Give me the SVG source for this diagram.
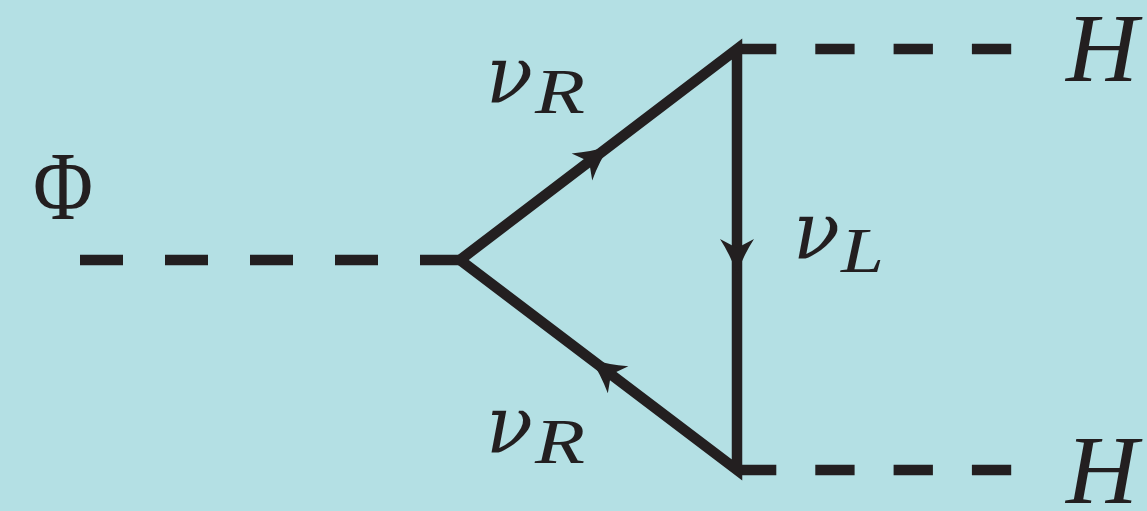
<svg xmlns="http://www.w3.org/2000/svg" width="1147" height="511" viewBox="0 0 1147 511">
<defs>
<style>
.bg{fill:#b4e0e4}
.fermion{fill:none;stroke:#231f20;stroke-width:10.5;stroke-linejoin:miter;stroke-miterlimit:10}
.scalar{fill:none;stroke:#231f20;stroke-width:10.5;stroke-linecap:butt}
.arrow{fill:#231f20}
.math{font-family:"Liberation Serif","Times New Roman",serif;font-style:italic;fill:#231f20}
.greek{font-family:"DejaVu Serif",serif;font-style:italic;fill:#231f20}
.up{font-family:"Liberation Serif","Times New Roman",serif;fill:#231f20}
</style>
<path id="ah" d="M 6 0 Q -12 -6 -29 -17 L -20 0 L -29 17 Q -12 6 6 0 Z"/>
</defs>
<rect class="bg" x="0" y="0" width="1147" height="511"/>
<g id="connectors">
<path class="scalar" d="M 80 260 H 460" stroke-dasharray="43 42"/>
<path class="scalar" d="M 737 49 H 1012" stroke-dasharray="39.3 39"/>
<path class="scalar" d="M 737 470 H 1012" stroke-dasharray="39.3 39"/>
<path class="fermion" d="M 460 260 L 737 49 L 737 470 Z"/>
<use class="arrow" href="#ah" transform="translate(605,149.5) rotate(-37.3)"/>
<use class="arrow" href="#ah" transform="translate(737,268) rotate(90)"/>
<use class="arrow" href="#ah" transform="translate(595,362.3) rotate(217.2)"/>
</g>
<g id="phi"><text class="up" x="33" y="219" font-size="98" textLength="60" lengthAdjust="spacingAndGlyphs">Φ</text></g>
<g id="nuR-top"><text class="greek" x="486" y="103" font-size="81" textLength="47" lengthAdjust="spacingAndGlyphs">ν</text><text class="math" x="535" y="113" font-size="64" textLength="50" lengthAdjust="spacingAndGlyphs">R</text></g>
<g id="nuL"><text class="greek" x="793" y="259" font-size="81" textLength="47" lengthAdjust="spacingAndGlyphs">ν</text><text class="math" x="841" y="272" font-size="64" textLength="43" lengthAdjust="spacingAndGlyphs">L</text></g>
<g id="nuR-bottom"><text class="greek" x="486" y="453" font-size="81" textLength="47" lengthAdjust="spacingAndGlyphs">ν</text><text class="math" x="535" y="463" font-size="64" textLength="50" lengthAdjust="spacingAndGlyphs">R</text></g>
<g id="H-top"><text class="math" x="1066" y="81" font-size="98" textLength="72" lengthAdjust="spacingAndGlyphs">H</text></g>
<g id="H-bottom"><text class="math" x="1066" y="503" font-size="98" textLength="72" lengthAdjust="spacingAndGlyphs">H</text></g>
</svg>
